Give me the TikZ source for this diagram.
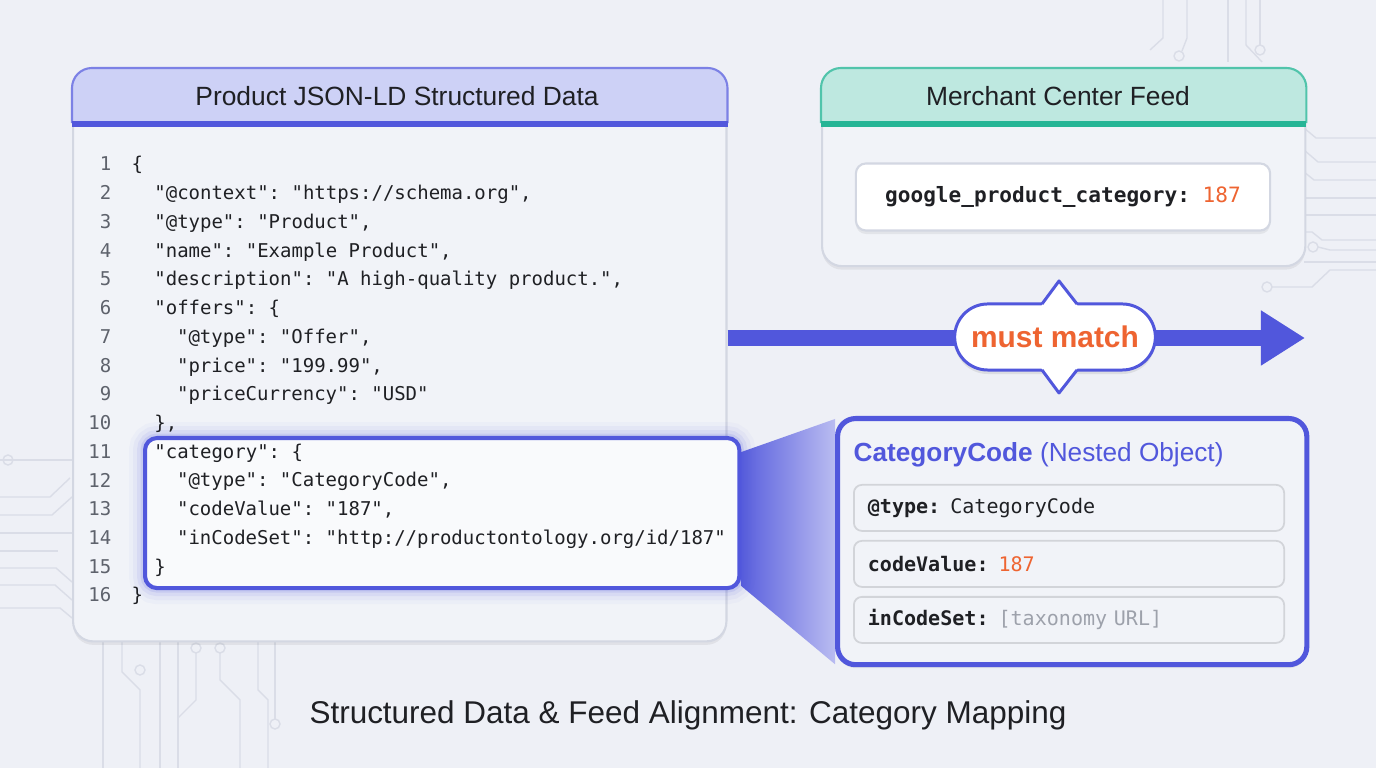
\documentclass[tikz,border=0pt]{standalone}
\usepackage{fontspec}
\setmainfont{Liberation Sans}
\setsansfont{Liberation Sans}
\setmonofont{DejaVu Sans Mono}
\usepackage{tikz}
\usetikzlibrary{positioning, arrows.meta, shapes.misc, shadows, backgrounds, calc}
\usepackage{xcolor}
\definecolor{cmbg}{HTML}{EEF0F6}
\definecolor{cmtrace}{HTML}{DADDE7}
\definecolor{cmpanel}{HTML}{F1F3F8}
\definecolor{cmedge}{HTML}{D3D7E2}
\definecolor{cmaccent}{HTML}{5157DC}
\definecolor{cmlav}{HTML}{CDD1F6}
\definecolor{cmmint}{HTML}{BEE8E0}
\definecolor{cmteal}{HTML}{26B596}
\definecolor{cmorange}{HTML}{EE6431}
\definecolor{cmink}{HTML}{1F2024}
\definecolor{cmnum}{HTML}{5E626C}
\definecolor{cmmuted}{HTML}{9DA1AB}

\tikzset{
  panel/.style={draw=cmedge, fill=cmpanel, line width=0.6pt, rounded corners=0.2cm,
    inner sep=0pt, anchor=north west,
    drop shadow={shadow xshift=0pt, shadow yshift=-0.035cm, opacity=0.06, fill=black}},
  hdrtitle/.style={font=\fontsize{7.5}{8}\selectfont, text=cmink},
  lineno/.style={font=\ttfamily\fontsize{5.4}{6}\selectfont, text=cmnum, anchor=base east, inner sep=0pt},
  code/.style={font=\ttfamily\fontsize{5.4}{6}\selectfont, text=cmink, anchor=base west, inner sep=0pt},
  glowbox/.style={draw=cmaccent, line width=1.15pt, fill=white!60!cmpanel,
    rounded corners=0.12cm, inner sep=0pt, anchor=north west,
    preaction={draw=cmaccent, line width=0.32cm, opacity=0.03},
    preaction={draw=cmaccent, line width=0.24cm, opacity=0.05},
    preaction={draw=cmaccent, line width=0.16cm, opacity=0.08},
    preaction={draw=cmaccent, line width=0.09cm, opacity=0.12}},
  rowbox/.style={draw=cmedge!85!black!60, fill=cmpanel, line width=0.5pt, rounded corners=0.08cm,
    minimum height=0.46cm, text width=4.02cm, inner xsep=0.14cm, inner ysep=0pt, align=left,
    anchor=north west, font=\ttfamily\fontsize{5.7}{6.5}\selectfont, text=cmink},
  trace/.style={draw=cmtrace, line width=0.4pt},
  flowarrow/.style={draw=cmaccent, line width=0.16cm, -{Triangle[length=0.44cm, width=0.52cm]}},
}

\begin{document}
\begin{tikzpicture}[x=0.01cm, y=-0.01cm]
\useasboundingbox (0,0) rectangle (1376,768);

\begin{scope}[on background layer]
\fill[cmbg] (0,0) rectangle (1376,768);
% circuit traces, left
\draw[trace] (0,460) -- (72,460);
\draw[trace] (8,460) circle (5);
\draw[trace] (0,497) -- (50,497) -- (70,478);
\draw[trace] (0,515) -- (52,515) -- (72,497);
\draw[trace] (0,533) -- (72,533);
\draw[trace] (0,551) -- (58,551);
\draw[trace] (0,568) -- (56,568) -- (72,582);
\draw[trace] (0,585) -- (55,585) -- (72,600);
\draw[trace] (0,608) -- (60,608) -- (72,618);
% circuit traces, below the code panel
\draw[trace] (103,640) -- (103,768);
\draw[trace] (122,640) -- (122,672) -- (140,690) -- (140,768);
\draw[trace] (140,670) circle (5);
\draw[trace] (160,640) -- (160,768);
\draw[trace] (178,640) -- (178,768);
\draw[trace] (196,653) -- (196,700) -- (178,718);
\draw[trace] (196,648) circle (5);
\draw[trace] (220,653) -- (220,680) -- (240,700) -- (240,768);
\draw[trace] (220,648) circle (5);
\draw[trace] (258,640) -- (258,690) -- (268,700) -- (268,768);
\draw[trace] (275,640) -- (275,719);
\draw[trace] (275,724) circle (5);
% circuit traces, top right
\draw[trace] (1163,0) -- (1163,38) -- (1150,50);
\draw[trace] (1187,0) -- (1187,38) -- (1182,51);
\draw[trace] (1179,56) circle (5);
\draw[trace] (1228,0) -- (1228,62);
\draw[trace] (1246,0) -- (1246,45) -- (1262,62);
\draw[trace] (1260,0) -- (1260,45);
\draw[trace] (1260,50) circle (5);
% circuit traces, right
\draw[trace] (1304,128) -- (1316,138) -- (1376,138);
\draw[trace] (1304,150) -- (1318,162) -- (1376,162);
\draw[trace] (1304,172) -- (1314,180) -- (1376,180);
\draw[trace] (1304,198) -- (1376,198);
\draw[trace] (1304,215) -- (1376,215);
\draw[trace] (1304,232) -- (1312,232) -- (1322,240) -- (1376,240);
\draw[trace] (1313,247) circle (5);
\draw[trace] (1318,247) -- (1330,250) -- (1376,250);
\draw[trace] (1304,262) -- (1376,262);
\draw[trace] (1272,287) -- (1312,287) -- (1330,270) -- (1376,270);
\draw[trace] (1267,287) circle (5);
\end{scope}

% code panel
\node[panel, minimum width=6.53cm, minimum height=5.72cm] (jsonld) at (72,68) {};
\fill[cmlav] ([yshift=-0.55cm]jsonld.north west) {[rounded corners=0.2cm] -- (jsonld.north west)
  -- (jsonld.north east)} -- ([yshift=-0.55cm]jsonld.north east) -- cycle;
\draw[cmaccent!75, line width=0.6pt] ([yshift=-0.55cm]jsonld.north west) {[rounded corners=0.2cm]
  -- (jsonld.north west) -- (jsonld.north east)} -- ([yshift=-0.55cm]jsonld.north east);
\fill[cmaccent] ([yshift=-0.53cm]jsonld.north west) rectangle ([yshift=-0.59cm]jsonld.north east);
\node[hdrtitle] (jsontitle) at (397,96) {Product JSON-LD Structured Data};

% highlighted nested object
\node[glowbox, minimum width=5.94cm, minimum height=1.50cm] (catbox) at (143,436) {};

\foreach \n in {1,...,16}
  \node[lineno] (n\n) at (112, {171+(\n-1)*28.73}) {\n};

\node[code] (c1)  at (131,171.0) {\{};
\node[code] (c2)  at (153.7,199.7) {"@context": "https://schema.org",};
\node[code] (c3)  at (153.7,228.5) {"@type": "Product",};
\node[code] (c4)  at (153.7,257.2) {"name": "Example Product",};
\node[code] (c5)  at (153.7,285.9) {"description": "A high-quality product.",};
\node[code] (c6)  at (153.7,314.7) {"offers": \{};
\node[code] (c7)  at (176.4,343.4) {"@type": "Offer",};
\node[code] (c8)  at (176.4,372.1) {"price": "199.99",};
\node[code] (c9)  at (176.4,400.8) {"priceCurrency": "USD"};
\node[code] (c10) at (153.7,429.6) {\},};
\node[code] (c11) at (153.7,458.3) {"category": \{};
\node[code] (c12) at (176.4,487.0) {"@type": "CategoryCode",};
\node[code] (c13) at (176.4,515.8) {"codeValue": "187",};
\node[code] (c14) at (176.4,544.5) {"inCodeSet": "http://productontology.org/id/187"};
\node[code] (c15) at (153.7,573.2) {\}};
\node[code] (c16) at (131,601.9) {\}};

% feed panel
\node[panel, minimum width=4.83cm, minimum height=1.97cm] (feed) at (821,68) {};
\fill[cmmint] ([yshift=-0.55cm]feed.north west) {[rounded corners=0.2cm] -- (feed.north west)
  -- (feed.north east)} -- ([yshift=-0.55cm]feed.north east) -- cycle;
\draw[cmteal!80, line width=0.6pt] ([yshift=-0.55cm]feed.north west) {[rounded corners=0.2cm]
  -- (feed.north west) -- (feed.north east)} -- ([yshift=-0.55cm]feed.north east);
\fill[cmteal] ([yshift=-0.53cm]feed.north west) rectangle ([yshift=-0.59cm]feed.north east);
\node[hdrtitle] (feedtitle) at (1058,96) {Merchant Center Feed};
\node[draw=cmedge, fill=white, line width=0.6pt, rounded corners=0.1cm,
  minimum width=4.14cm, minimum height=0.67cm,
  drop shadow={shadow xshift=0pt, shadow yshift=-0.035cm, opacity=0.06, fill=black},
  font=\ttfamily\bfseries\fontsize{6.0}{7}\selectfont, text=cmink] (gpc) at (1063,197)
  {google\_product\_category: \textcolor{cmorange}{\mdseries 187}};

% must match
\coordinate (arrowend) at (1305,338);
\draw[flowarrow] (jsonld.east |- arrowend) -- (arrowend);
\node[rounded rectangle, draw=cmaccent, fill=white, line width=0.85pt,
  minimum width=2.24cm, minimum height=0.66cm,
  drop shadow={shadow xshift=0pt, shadow yshift=-0.04cm, opacity=0.08, fill=black},
  font=\bfseries\fontsize{8.5}{10}\selectfont, text=cmorange] (match) at (1055,337) {must match};
\fill[white] (1041,306.5) -- (1059,281) -- (1078,306.5) -- cycle;
\draw[cmaccent, line width=0.85pt, line join=round] (1042,304) -- (1059,281) -- (1077,304);
\fill[white] (1041,367.5) -- (1059,393) -- (1078,367.5) -- cycle;
\draw[cmaccent, line width=0.85pt, line join=round] (1042,370) -- (1059,393) -- (1077,370);

% nested object
\node[panel, draw=cmaccent, line width=1.45pt, rounded corners=0.18cm,
  minimum width=4.69cm, minimum height=2.46cm] (catcode) at (835,416) {};
\begin{scope}[on background layer]
\shade[left color=cmaccent!95, right color=cmaccent!40!white]
  ([yshift=-0.16cm]catbox.north east) -- ([yshift=-0.03cm]catcode.north west)
  -- ([yshift=0.03cm]catcode.south west) -- ([yshift=0.04cm]catbox.south east) -- cycle;
\end{scope}
\node[anchor=base west, inner sep=0pt, text=cmaccent, font=\fontsize{7.45}{8}\selectfont]
  (cattitle) at (853,462) {\textbf{CategoryCode} (Nested Object)};
\node[rowbox] (rtype) at (853,484) {\textbf{@type:} CategoryCode};
\node[rowbox] (rcode) at (853,540) {\textbf{codeValue:} \textcolor{cmorange}{187}};
\node[rowbox] (rset)  at (853,596) {\textbf{inCodeSet:} \textcolor{cmmuted}{[taxonomy URL]}};

\node[font=\fontsize{8.95}{10}\selectfont, text=cmink] (caption) at (688,715)
  {Structured Data \& Feed Alignment: Category Mapping};
\end{tikzpicture}
\end{document}
